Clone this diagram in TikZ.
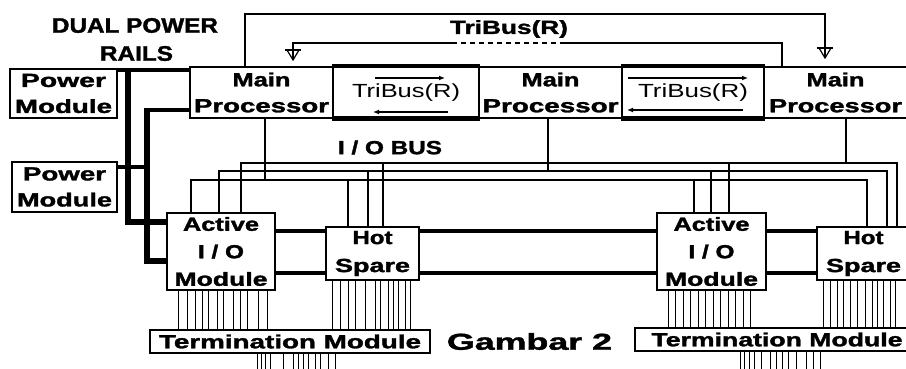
\documentclass[tikz,border=0pt]{standalone}
\usepackage{fontspec}
\setmainfont{Liberation Sans}[BoldFeatures={FakeBold=1.5}]
\usepackage{graphicx}
\usetikzlibrary{arrows.meta}
\newcommand\fitw[2]{\resizebox{#1}{\height}{#2}}
\begin{document}
\begin{tikzpicture}[x=1pt,y=-1pt,
  box/.style={draw,line width=1.3pt,inner sep=0pt,align=center,font=\bfseries\fontsize{19}{26}\selectfont},
  tbox/.style={draw,line width=1.3pt,inner sep=0pt,font=\fontsize{19}{26}\selectfont},
  thin/.style={line width=1.2pt},
  rail/.style={line width=5.5pt,line join=miter},
  hbar/.style={line width=4pt},
  wire/.style={line width=1pt},
  lbl/.style={inner sep=0pt,font=\bfseries\fontsize{19}{26}\selectfont},
  tip/.style={-{Latex[length=6pt,width=5pt]}},
  gnd/.pic={\draw[thin] (-8,0) -- (8,0); \draw[thin] (-6,0) -- (0,10) -- (6,0); \draw[thin] (0,-2) -- (0,10);}
  ]
\clip (0,0) rectangle (906,369);
% boxes
\node[box,minimum width=107pt,minimum height=49pt] (pm1) at (63.5,93.5) {\fitw{85pt}{Power}\\\fitw{97pt}{Module}};
\node[box,minimum width=105pt,minimum height=50pt] (pm2) at (64.5,187) {\fitw{83pt}{Power}\\\fitw{95pt}{Module}};
\node[box,minimum width=143pt,minimum height=51pt] (mp1) at (261.5,92.5) {\fitw{58pt}{Main}\\\fitw{135pt}{Processor}};
\node[tbox,minimum width=146pt,minimum height=51pt] (tb1) at (406,92.5) {\raisebox{-2pt}{\fitw{108pt}{TriBus(R)}}};
\node[box,minimum width=143pt,minimum height=51pt] (mp2) at (550.5,92.5) {\fitw{58pt}{Main}\\\fitw{136pt}{Processor}};
\node[tbox,minimum width=142pt,minimum height=51pt] (tb2) at (693,92.5) {\raisebox{-3pt}{\fitw{110pt}{TriBus(R)}}};
\node[box,minimum width=143pt,minimum height=51pt] (mp3) at (835.5,92.5) {\fitw{58pt}{Main}\\\fitw{133pt}{Processor}};
\node[box,minimum width=108pt,minimum height=77pt,font=\bfseries\fontsize{19}{27.5}\selectfont] (aio1) at (221,251.5) {\fitw{76pt}{Active}\\\fitw{46pt}{I / O}\\\fitw{93pt}{Module}};
\node[box,minimum width=93pt,minimum height=53pt,font=\bfseries\fontsize{19}{28}\selectfont] (hs1) at (372.5,253.5) {\fitw{40pt}{Hot}\\\fitw{75pt}{Spare}};
\node[box,minimum width=109pt,minimum height=77pt,font=\bfseries\fontsize{19}{27.5}\selectfont] (aio2) at (711.5,251.5) {\fitw{76pt}{Active}\\\fitw{46pt}{I / O}\\\fitw{93pt}{Module}};
\node[box,minimum width=93pt,minimum height=53pt,font=\bfseries\fontsize{19}{28}\selectfont] (hs2) at (863.5,253.5) {\fitw{40pt}{Hot}\\\fitw{75pt}{Spare}};
\node[box,minimum width=280pt,minimum height=23pt] (tm1) at (290,341.5) {\fitw{262pt}{Termination Module}};
\node[box,minimum width=290pt,minimum height=23pt] (tm2) at (780,339.5) {};
\node[lbl] (tm2t) at (777,339.5) {\fitw{251pt}{Termination Module}};
% labels
\node[lbl,font=\bfseries\fontsize{21}{26}\selectfont] (dual) at (135,25.5) {\fitw{166pt}{DUAL POWER}};
\node[lbl,font=\bfseries\fontsize{21}{26}\selectfont] (rails) at (136.5,53.5) {\fitw{73pt}{RAILS}};
\node[lbl] (tbl) at (509,29) {\fitw{118pt}{TriBus(R)}};
\node[lbl] (iob) at (390,147.5) {\fitw{104pt}{I / O BUS}};
\node[lbl,font=\bfseries\fontsize{23}{26}\selectfont] (gam) at (529.5,341.5) {\fitw{165pt}{Gambar 2}};
% TriBus box borders and arrows
\draw[line width=4pt] (tb1.north west) -- (tb1.north east);
\draw[line width=5pt] (tb1.south west) -- (tb1.south east);
\draw[line width=4pt] (tb2.north west) -- (tb2.north east);
\draw[line width=5pt] (tb2.south west) -- (tb2.south east);
\draw[thin,tip] (375,78) -- (445,78);
\draw[thin,tip] (448,112) -- (373,112);
\draw[thin,tip] (628,78) -- (748,78);
\draw[thin,tip] (743,110) -- (627,110);
% top TriBus lines
\draw[thin] (mp1.north -| 245,0) -- (245,14) -- (825,14) -- (825,48);
\pic at (825,48) {gnd};
\draw[thin] (mp3.north -| 782,0) -- (782,43) -- (565,43);
\draw[thin,dash pattern=on 5pt off 4pt] (565,43) -- (453,43);
\draw[thin] (453,43) -- (293,43) -- (293,50);
\pic at (293,50) {gnd};
% power rails
\draw[hbar] (pm1.east |- 0,70) -- (mp1.west |- 0,70);
\draw[rail] (128,68) -- (128,222) -- (aio1.west |- 0,222);
\draw[hbar] (mp1.west |- 0,110) -- (145,110);
\draw[rail] (147,108) -- (147,261) -- (aio1.west |- 0,261);
\draw[hbar] (pm2.east |- 0,167) -- (147,167);
% thick I/O links
\foreach \yy in {231,273} {
  \draw[hbar] (aio1.east |- 0,\yy) -- (hs1.west |- 0,\yy);
  \draw[hbar] (hs1.east |- 0,\yy) -- (aio2.west |- 0,\yy);
  \draw[hbar] (aio2.east |- 0,\yy) -- (hs2.west |- 0,\yy);
}
% I/O bus
\draw[thin] (aio1.north -| 191,0) -- (191,180) -- (867,180) -- (hs2.north -| 867,0);
\draw[thin] (mp1.south -| 265,0) -- (265,180);
\draw[thin] (348,180) -- (hs1.north -| 348,0);
\draw[thin] (694,180) -- (aio2.north -| 694,0);
\draw[thin] (aio1.north -| 219,0) -- (219,171) -- (887,171) -- (hs2.north -| 887,0);
\draw[thin] (mp2.south -| 548,0) -- (548,171);
\draw[thin] (368,171) -- (hs1.north -| 368,0);
\draw[thin] (711,171) -- (aio2.north -| 711,0);
\draw[thin] (aio1.north -| 241,0) -- (241,163) -- (897,163) -- (hs2.north -| 897,0);
\draw[thin] (mp3.south -| 846,0) -- (846,163);
\draw[thin] (383,163) -- (hs1.north -| 383,0);
\draw[thin] (729,163) -- (aio2.north -| 729,0);
% bundles
\foreach \x in {178,187,195,202,208,217,223,233,240,247,258,267}
  \draw[wire] (\x,0 |- aio1.south) -- (\x,0 |- tm1.north);
\foreach \x in {332,340,348,355,365,375,380,388,393,398,405,410}
  \draw[wire] (\x,0 |- hs1.south) -- (\x,0 |- tm1.north);
\foreach \x in {257,261,265,270,283,293,298,303,308,315,320,328,335}
  \draw[wire] (\x,0 |- tm1.south) -- (\x,369);
\foreach \x in {668,675,683,690,698,705,713,720,728,735,743,750}
  \draw[wire] (\x,0 |- aio2.south) -- (\x,0 |- tm2.north);
\foreach \x in {823,830,837,843,850,857,865,872,877,883,890,895}
  \draw[wire] (\x,0 |- hs2.south) -- (\x,0 |- tm2.north);
\foreach \x in {740,744,749,754,761,770,776,782,788,796,806,813,820}
  \draw[wire] (\x,0 |- tm2.south) -- (\x,369);
\end{tikzpicture}
\end{document}
